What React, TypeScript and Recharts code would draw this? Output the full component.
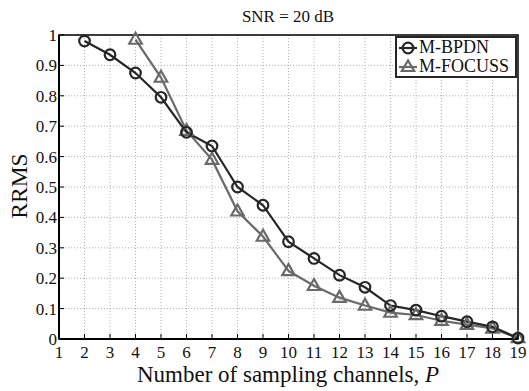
import { CartesianGrid, Customized, Line, LineChart, ReferenceArea, XAxis, YAxis } from "recharts";

const channels = [2, 3, 4, 5, 6, 7, 8, 9, 10, 11, 12, 13, 14, 15, 16, 17, 18, 19];
const bpdn = [0.98, 0.935, 0.875, 0.795, 0.68, 0.635, 0.5, 0.44, 0.32, 0.265, 0.21, 0.17, 0.11, 0.095, 0.075, 0.057, 0.04, 0.003];
const focuss = [null, null, 0.985, 0.86, 0.685, 0.59, 0.42, 0.337, 0.224, 0.175, 0.136, 0.11, 0.087, 0.079, 0.06, 0.047, 0.035, 0.003];
const xTicks = [1, 2, 3, 4, 5, 6, 7, 8, 9, 10, 11, 12, 13, 14, 15, 16, 17, 18, 19];
const yTicks = [0, 0.1, 0.2, 0.3, 0.4, 0.5, 0.6, 0.7, 0.8, 0.9, 1];

const SERIF = "'Liberation Serif', 'DejaVu Serif', serif";
const DARK = "#262626";
const GRAY = "#6a6a6a";

const data = channels.map((p, i) => ({ p, bpdn: bpdn[i], focuss: focuss[i] }));

if (typeof document !== "undefined") document.body.style.margin = "0";

function CircleDot(props: any) {
  const { cx, cy } = props;
  if (cx == null || cy == null) return null;
  return <circle cx={cx} cy={cy} r={5.3} fill="none" stroke={DARK} strokeWidth={2.2} />;
}

function TriDot(props: any) {
  const { cx, cy, value } = props;
  if (cx == null || cy == null || value == null) return null;
  const h = 11;
  const w = 12.5;
  return (
    <polygon
      points={`${cx},${cy - h * 0.62} ${cx - w / 2},${cy + h * 0.38} ${cx + w / 2},${cy + h * 0.38}`}
      fill="none"
      stroke={GRAY}
      strokeWidth={2.2}
    />
  );
}

function BottomTick(props: any) {
  const { x, y, payload } = props;
  return (
    <g>
      <line x1={x} y1={y} x2={x} y2={y - 5} stroke="#000" strokeWidth={1} />
      <text x={x} y={y + 19} textAnchor="middle" style={{ fontFamily: SERIF, fontSize: 17 }} fill="#111">
        {payload.value}
      </text>
    </g>
  );
}

function TopTick(props: any) {
  const { x, y } = props;
  return <line x1={x} y1={y} x2={x} y2={y + 5} stroke="#000" strokeWidth={1} />;
}

function LeftTick(props: any) {
  const { x, y, payload } = props;
  return (
    <g>
      <line x1={x} y1={y} x2={x + 5} y2={y} stroke="#000" strokeWidth={1} />
      <text x={x - 2} y={y + 6} textAnchor="end" style={{ fontFamily: SERIF, fontSize: 17 }} fill="#111">
        {payload.value}
      </text>
    </g>
  );
}

function RightTick(props: any) {
  const { x, y } = props;
  return <line x1={x} y1={y} x2={x - 5} y2={y} stroke="#000" strokeWidth={1} />;
}

function LegendBox() {
  const rows = [
    { name: "M-BPDN", color: DARK, shape: "circle" },
    { name: "M-FOCUSS", color: GRAY, shape: "tri" },
  ];
  return (
    <div
      style={{
        position: "absolute",
        left: 395,
        top: 36,
        width: 118,
        height: 38,
        border: `2px solid ${DARK}`,
        background: "#fff",
        fontFamily: SERIF,
        fontSize: 18,
        color: "#111",
        lineHeight: "19px",
      }}
    >
      {rows.map((r) => (
        <div key={r.name} style={{ display: "flex", alignItems: "center", height: 19, whiteSpace: "nowrap" }}>
          <svg width={22} height={19} style={{ flex: "none" }}>
            <line x1={2} y1={10} x2={20} y2={10} stroke={r.color} strokeWidth={2.2} />
            {r.shape === "circle" ? (
              <circle cx={11} cy={10} r={5.3} fill="none" stroke={r.color} strokeWidth={2.2} />
            ) : (
              <polygon points="11,3.5 4.8,14 17.2,14" fill="none" stroke={r.color} strokeWidth={2.2} />
            )}
          </svg>
          <span>{r.name}</span>
        </div>
      ))}
    </div>
  );
}

export default function App() {
  return (
    <div style={{ position: "relative", width: 529, height: 391, background: "#fff" }}>
      <LineChart width={529} height={391} data={data} margin={{ top: 35, right: 11, bottom: 0, left: 0 }}>
        <CartesianGrid stroke="#b0b0b0" strokeDasharray="1 2" strokeWidth={1} />
        <XAxis
          dataKey="p"
          type="number"
          domain={[1, 19]}
          ticks={xTicks}
          interval={0}
          height={52}
          tickSize={0}
          tickMargin={0}
          tick={<BottomTick />}
          axisLine={{ stroke: "#000", strokeWidth: 2 }}
          tickLine={false}
          label={{
            content: () => (
              <text x={288} y={382} textAnchor="middle" style={{ fontFamily: SERIF, fontSize: 23 }} fill="#111">
                Number of sampling channels, <tspan fontStyle="italic">P</tspan>
              </text>
            ),
          }}
        />
        <XAxis
          xAxisId="top"
          orientation="top"
          dataKey="p"
          type="number"
          domain={[1, 19]}
          ticks={xTicks}
          interval={0}
          height={0}
          tickSize={0}
          tickMargin={0}
          tick={<TopTick />}
          axisLine={{ stroke: "#000", strokeWidth: 1.5 }}
          tickLine={false}
        />
        <YAxis
          type="number"
          domain={[0, 1]}
          ticks={yTicks}
          interval={0}
          width={59}
          tickSize={0}
          tickMargin={0}
          tick={<LeftTick />}
          axisLine={{ stroke: "#000", strokeWidth: 2 }}
          tickLine={false}
          label={{
            content: () => (
              <text
                x={19}
                y={186}
                transform="rotate(-90 19 186)"
                textAnchor="middle"
                dominantBaseline="central"
                style={{ fontFamily: SERIF, fontSize: 23.5 }}
                fill="#111"
              >
                RRMS
              </text>
            ),
          }}
        />
        <YAxis
          yAxisId="right"
          orientation="right"
          type="number"
          domain={[0, 1]}
          ticks={yTicks}
          interval={0}
          width={0}
          tickSize={0}
          tickMargin={0}
          tick={<RightTick />}
          axisLine={{ stroke: "#000", strokeWidth: 1.5 }}
          tickLine={false}
        />
        <ReferenceArea x1={1} x2={19} y1={0} y2={1} fill="none" stroke="#000" strokeWidth={1.5} ifOverflow="visible" />
        <Line
          dataKey="focuss"
          name="M-FOCUSS"
          stroke={GRAY}
          strokeWidth={2.2}
          dot={<TriDot />}
          activeDot={false}
          connectNulls={false}
          isAnimationActive={false}
        />
        <Line
          dataKey="bpdn"
          name="M-BPDN"
          stroke={DARK}
          strokeWidth={2.2}
          dot={<CircleDot />}
          activeDot={false}
          isAnimationActive={false}
        />
        <Customized
          component={() => (
            <text x={288} y={22} textAnchor="middle" style={{ fontFamily: SERIF, fontSize: 17 }} fill="#111">
              SNR = 20 dB
            </text>
          )}
        />
      </LineChart>
      <LegendBox />
    </div>
  );
}
